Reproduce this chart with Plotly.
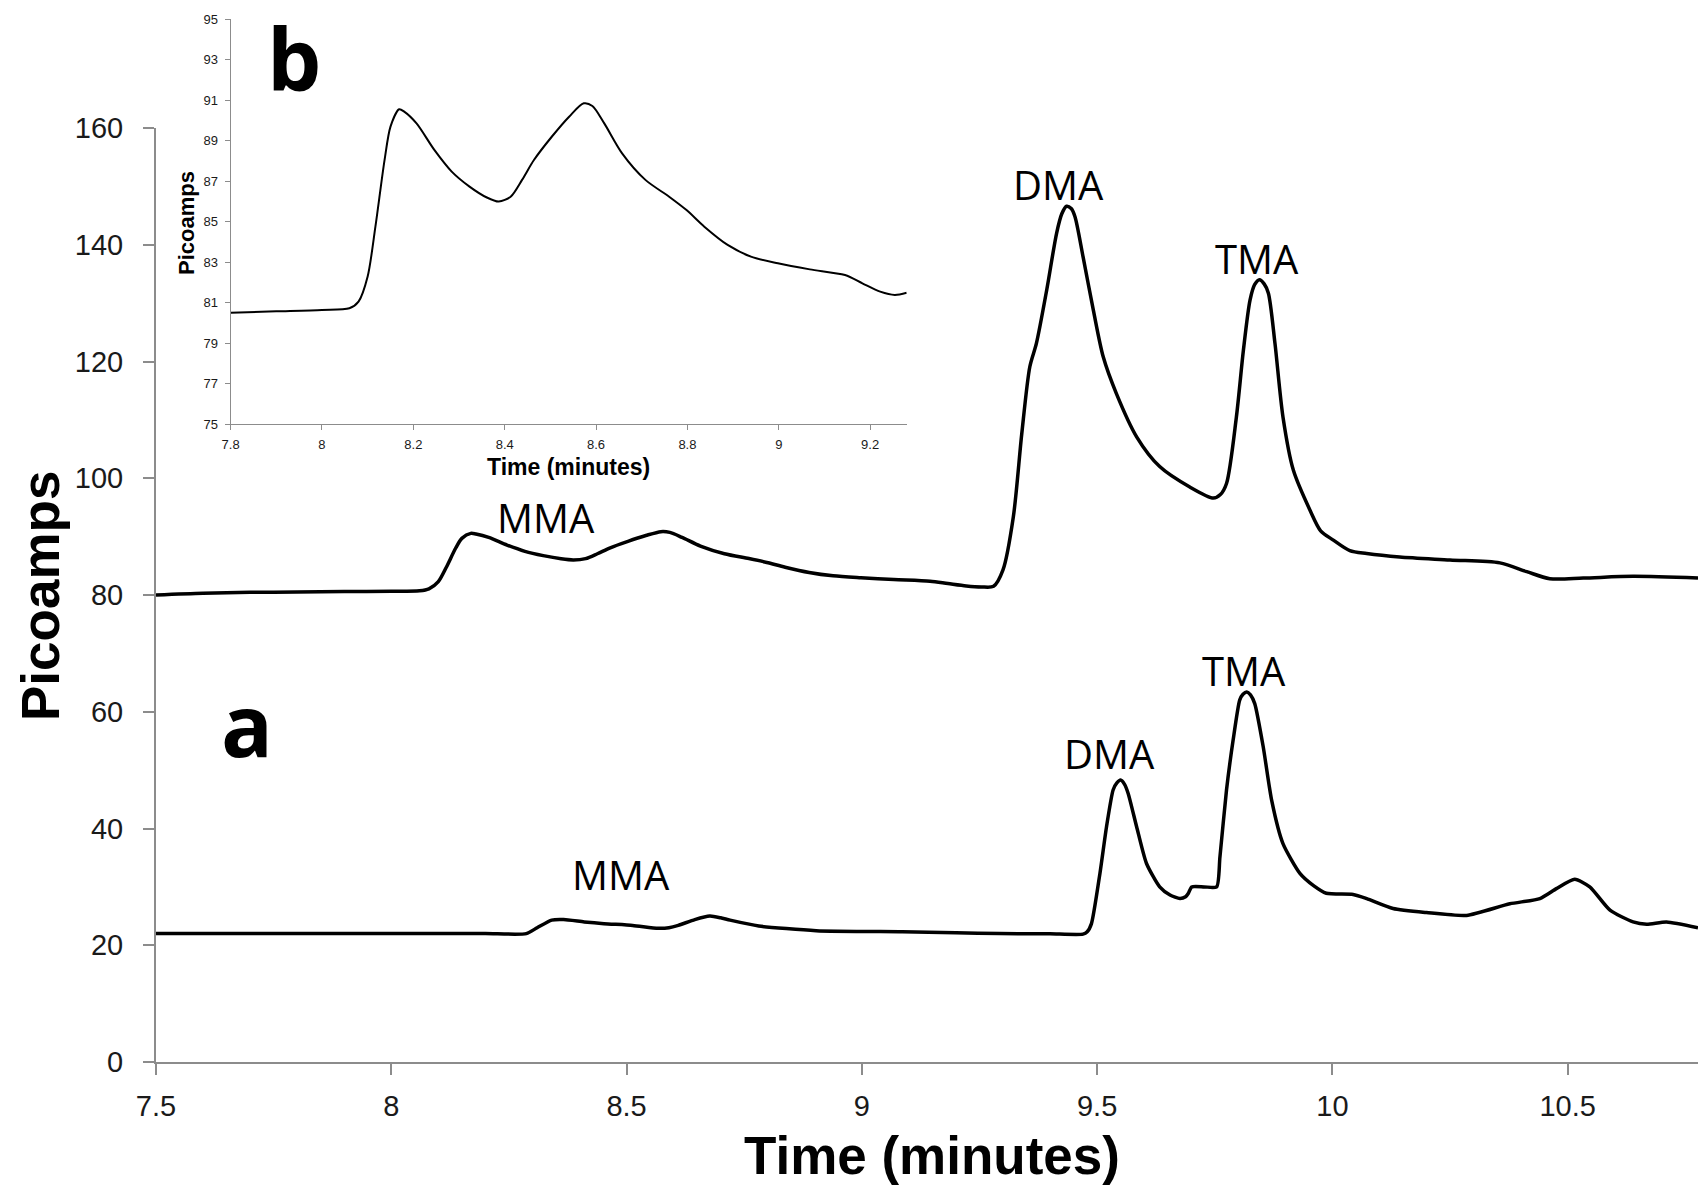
import plotly.graph_objects as go

# Trace "b" (upper chromatogram, also shown enlarged in the inset)
time_b = [7.5, 7.6, 7.7, 7.8, 7.9, 8.0, 8.06, 8.08, 8.10, 8.117, 8.137, 8.15, 8.169, 8.18,
          8.207, 8.246, 8.284, 8.323, 8.361, 8.387, 8.413, 8.438, 8.464, 8.503, 8.541, 8.573,
          8.592, 8.618, 8.657, 8.708, 8.76, 8.798, 8.837, 8.888, 8.939, 8.998, 9.068, 9.145,
          9.183, 9.222, 9.254, 9.28, 9.300, 9.322, 9.340, 9.357, 9.371, 9.393, 9.414, 9.425,
          9.435, 9.445, 9.453, 9.470, 9.492, 9.513, 9.541, 9.584, 9.633, 9.697, 9.747, 9.762,
          9.775, 9.796, 9.811, 9.825, 9.835, 9.845, 9.855, 9.864, 9.878, 9.895, 9.917, 9.952,
          9.975, 10.002, 10.037, 10.073, 10.143, 10.250, 10.356, 10.413, 10.462, 10.533,
          10.639, 10.777]
pA_b = [80.0, 80.3, 80.45, 80.51, 80.58, 80.65, 80.73, 81.06, 82.3, 84.76, 88.05, 89.7, 90.56, 90.44,
        89.86, 88.55, 87.48, 86.74, 86.2, 86.0, 86.24, 87.07, 88.05, 89.2, 90.19, 90.85,
        90.72, 89.86, 88.38, 87.07, 86.24, 85.58, 84.76, 83.86, 83.28, 82.95, 82.65, 82.37,
        81.96, 81.55, 81.39, 81.5, 84.3, 93.4, 107.7, 119.1, 123.1, 132.3, 142.0, 145.3,
        146.6, 146.2, 144.8, 138.0, 128.8, 120.8, 114.5, 107.1, 102.0, 98.5, 96.6, 97.2,
        99.1, 110.5, 122.0, 130.5, 133.2, 134.0, 133.3, 131.7, 123.1, 110.5, 101.4, 94.6,
        91.0, 89.4, 87.6, 87.1, 86.5, 86.0, 85.5, 84.0, 82.8, 82.9,
        83.2, 82.9]

# Trace "a" (lower chromatogram)
time_a = [7.5, 7.8, 8.0, 8.2, 8.287, 8.31, 8.341, 8.366, 8.41, 8.452, 8.513, 8.567, 8.59, 8.610,
          8.645, 8.677, 8.700, 8.720, 8.781, 8.903, 9.086, 9.2, 9.293, 9.4, 9.470, 9.479, 9.488,
          9.506, 9.520, 9.534, 9.542, 9.550, 9.558, 9.566, 9.584, 9.605, 9.633, 9.655, 9.676,
          9.688, 9.694, 9.701, 9.728, 9.754, 9.761, 9.775, 9.789, 9.803, 9.810, 9.818, 9.826,
          9.835, 9.853, 9.871, 9.895, 9.931, 9.960, 9.987, 10.044, 10.073, 10.129, 10.200,
          10.285, 10.377, 10.441, 10.476, 10.515, 10.547, 10.590, 10.639, 10.668, 10.710, 10.777]
pA_a = [22.0, 22.0, 22.0, 22.0, 22.0, 23.0, 24.3, 24.4, 24.0, 23.7, 23.4, 22.9, 23.0, 23.4,
        24.4, 25.0, 24.7, 24.3, 23.3, 22.5, 22.3, 22.15, 22.0, 21.95, 21.9, 22.3, 23.7,
        32.3, 40.3, 46.6, 47.8, 48.3, 47.6, 46.0, 40.3, 34.0, 30.0, 28.6, 28.0,
        28.3, 28.9, 30.0, 30.0, 30.0, 35.1, 46.6, 55.1, 62.0, 63.0, 63.4, 62.9,
        61.4, 54.0, 44.8, 37.4, 32.3, 30.2, 28.9, 28.7, 28.0, 26.3, 25.6,
        25.1, 27.1, 28.0, 29.7, 31.3, 30.0, 26.0, 24.0, 23.6, 24.0, 23.0]

# Inset window
inset_x_range = [7.8, 9.28]
inset_y_range = [75, 95]
inset_time = [t for t in time_b if inset_x_range[0] <= t <= inset_x_range[1]]
inset_pA = [v for t, v in zip(time_b, pA_b) if inset_x_range[0] <= t <= inset_x_range[1]]

# Peak labels
peak_labels = ["MMA", "DMA", "TMA", "MMA", "DMA", "TMA"]
peak_label_x = [8.329, 9.417, 9.840, 8.488, 9.527, 9.813]
peak_label_y = [93.2, 150.4, 137.6, 32.2, 52.8, 67.0]

main_x_ticks = [7.5, 8, 8.5, 9, 9.5, 10, 10.5]
main_y_ticks = [0, 20, 40, 60, 80, 100, 120, 140, 160]
inset_x_ticks = [7.8, 8, 8.2, 8.4, 8.6, 8.8, 9, 9.2]
inset_y_ticks = [75, 77, 79, 81, 83, 85, 87, 89, 91, 93, 95]

W, H = 1698, 1187
ML, MB = 156, 125
plot_h = H - MB
plot_w = W - ML


def px_to_paper_x(px):
    return (px - ML) / plot_w


def px_to_paper_y(py):
    return (plot_h - py) / plot_h


fig = go.Figure()
fig.add_trace(go.Scatter(x=time_b, y=pA_b, mode="lines",
                         line=dict(color="black", width=3.5, shape="spline", smoothing=0.8),
                         xaxis="x", yaxis="y", showlegend=False, hoverinfo="skip"))
fig.add_trace(go.Scatter(x=time_a, y=pA_a, mode="lines",
                         line=dict(color="black", width=3.5, shape="spline", smoothing=0.6),
                         xaxis="x", yaxis="y", showlegend=False, hoverinfo="skip"))
fig.add_trace(go.Scatter(x=inset_time, y=inset_pA, mode="lines",
                         line=dict(color="black", width=2, shape="spline", smoothing=0.8),
                         xaxis="x2", yaxis="y2", showlegend=False, hoverinfo="skip"))

axis_gray = "#8c8c8c"
tick_font_main = dict(family="Liberation Sans, Arial, sans-serif", size=29, color="#1a1a1a")
tick_font_inset = dict(family="Liberation Sans, Arial, sans-serif", size=13, color="#1a1a1a")

fig.update_layout(
    width=W, height=H,
    margin=dict(l=ML, r=0, t=0, b=MB, autoexpand=False),
    plot_bgcolor="white", paper_bgcolor="white",
    xaxis=dict(range=[7.5, 10.777], domain=[0, 1], tickvals=main_x_ticks, automargin=False,
               showline=True, linecolor=axis_gray, linewidth=2, ticks="outside",
               ticklen=11, tickwidth=1.5, tickcolor=axis_gray, showgrid=False, zeroline=False,
               tickfont=tick_font_main, ticklabelstandoff=6, anchor="y"),
    yaxis=dict(range=[0, 160], domain=[0, px_to_paper_y(128)], tickvals=main_y_ticks,
               automargin=False,
               showline=True, linecolor=axis_gray, linewidth=2, ticks="outside",
               ticklen=11, tickwidth=1.5, tickcolor=axis_gray, showgrid=False, zeroline=False,
               tickfont=tick_font_main, ticklabelstandoff=14, anchor="x"),
    xaxis2=dict(range=inset_x_range, domain=[px_to_paper_x(230.6), px_to_paper_x(906.7)],
                automargin=False,
                tickvals=inset_x_ticks, showline=True, linecolor=axis_gray, linewidth=1,
                ticks="outside", ticklen=5, tickcolor=axis_gray, showgrid=False, zeroline=False,
                tickfont=tick_font_inset, ticklabelstandoff=3, anchor="y2"),
    yaxis2=dict(range=inset_y_range, domain=[px_to_paper_y(424.3), px_to_paper_y(19.3)],
                automargin=False,
                tickvals=inset_y_ticks, showline=True, linecolor=axis_gray, linewidth=1,
                ticks="outside", ticklen=5, tickcolor=axis_gray, showgrid=False, zeroline=False,
                tickfont=tick_font_inset, ticklabelstandoff=4, anchor="x2"),
)

label_font = dict(family="Open Sans, Noto Sans, sans-serif", size=40, color="black")
for txt, lx, ly in zip(peak_labels, peak_label_x, peak_label_y):
    fig.add_annotation(x=lx, y=ly, xref="x", yref="y", text=txt, showarrow=False,
                       font=label_font, xanchor="center", yanchor="middle")

title_font_main = dict(family="Liberation Sans, Arial, sans-serif", size=53, color="black")
title_font_inset = dict(family="Liberation Sans, Arial, sans-serif", size=22, color="black")

fig.add_annotation(x=px_to_paper_x(932), y=px_to_paper_y(1155), xref="paper", yref="paper",
                   text="<b>Time (minutes)</b>", showarrow=False, font=title_font_main,
                   xanchor="center", yanchor="middle")
fig.add_annotation(x=px_to_paper_x(40), y=px_to_paper_y(596), xref="paper", yref="paper",
                   text="<b>Picoamps</b>", showarrow=False, font=title_font_main, textangle=-90,
                   xanchor="center", yanchor="middle")
fig.add_annotation(x=px_to_paper_x(568.6), y=px_to_paper_y(467), xref="paper", yref="paper",
                   text="<b>Time (minutes)</b>", showarrow=False,
                   font=dict(family="Liberation Sans, Arial, sans-serif", size=23, color="black"),
                   xanchor="center", yanchor="middle")
fig.add_annotation(x=px_to_paper_x(187), y=px_to_paper_y(223), xref="paper", yref="paper",
                   text="<b>Picoamps</b>", showarrow=False, font=title_font_inset, textangle=-90,
                   xanchor="center", yanchor="middle")

panel_font = dict(family="Open Sans, Noto Sans, sans-serif", size=86, color="black")
fig.add_annotation(x=px_to_paper_x(247), y=px_to_paper_y(723), xref="paper", yref="paper",
                   text="<b>a</b>", showarrow=False, font=panel_font,
                   xanchor="center", yanchor="middle")
fig.add_annotation(x=px_to_paper_x(294), y=px_to_paper_y(57), xref="paper", yref="paper",
                   text="<b>b</b>", showarrow=False, font=panel_font,
                   xanchor="center", yanchor="middle")

fig.write_html("out.html")
